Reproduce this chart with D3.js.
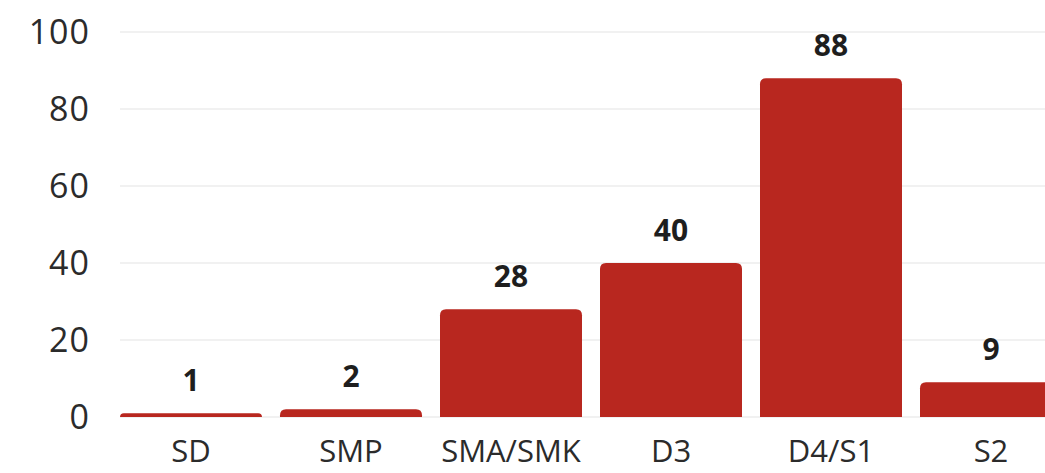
<!DOCTYPE html>
<html>
<head>
<meta charset="utf-8">
<script src="https://cdn.jsdelivr.net/npm/d3@7"></script>
<style>
  html, body { margin: 0; padding: 0; background: #fff; }
  svg { display: block; font-family: "Open Sans", sans-serif; }
</style>
</head>
<body>
<svg width="1045" height="473"></svg>
<script>
const categories = ["SD", "SMP", "SMA/SMK", "D3", "D4/S1", "S2"];
const values = [1, 2, 28, 40, 88, 9];
const yTicks = [0, 20, 40, 60, 80, 100];

const svg = d3.select("svg");
const barColor = "#b8271f";

const x = d3.scaleBand()
  .domain(categories)
  .range([120, 1062])
  .paddingInner(0.1125)
  .paddingOuter(0);

const y = d3.scaleLinear()
  .domain([0, 100])
  .range([417, 32]);

// gridlines
svg.append("g")
  .selectAll("line")
  .data(yTicks)
  .join("line")
  .attr("x1", 120)
  .attr("x2", 1045)
  .attr("y1", d => y(d))
  .attr("y2", d => y(d))
  .attr("stroke", "#ececec")
  .attr("stroke-width", 1.5);

// y tick labels
svg.append("g")
  .selectAll("text")
  .data(yTicks)
  .join("text")
  .attr("x", 90)
  .attr("y", d => y(d))
  .attr("dy", "0.35em")
  .attr("text-anchor", "end")
  .attr("font-size", 34)
  .attr("letter-spacing", 1)
  .attr("fill", "#2b2b2b")
  .text(d => d);

// bars with rounded top corners
const r = 6;
const barPath = (x0, w, yTop, yBase) => {
  const h = yBase - yTop;
  const rr = Math.min(r, h, w / 2);
  return `M${x0},${yBase}V${yTop + rr}Q${x0},${yTop} ${x0 + rr},${yTop}` +
         `H${x0 + w - rr}Q${x0 + w},${yTop} ${x0 + w},${yTop + rr}V${yBase}Z`;
};

svg.append("g")
  .selectAll("path")
  .data(categories)
  .join("path")
  .attr("d", (c, i) => barPath(x(c), x.bandwidth(), y(values[i]), y(0)))
  .attr("fill", barColor);

// value labels
svg.append("g")
  .selectAll("text")
  .data(categories)
  .join("text")
  .attr("x", c => x(c) + x.bandwidth() / 2)
  .attr("y", (c, i) => y(values[i]) - 22)
  .attr("text-anchor", "middle")
  .attr("font-size", 30)
  .attr("font-weight", 700)
  .attr("fill", "#1e1e1e")
  .text((c, i) => values[i]);

// category labels
svg.append("g")
  .selectAll("text")
  .data(categories)
  .join("text")
  .attr("x", c => x(c) + x.bandwidth() / 2)
  .attr("y", 462)
  .attr("text-anchor", "middle")
  .attr("font-size", 31)
  .attr("fill", "#2b2b2b")
  .text(c => c);
</script>
</body>
</html>
